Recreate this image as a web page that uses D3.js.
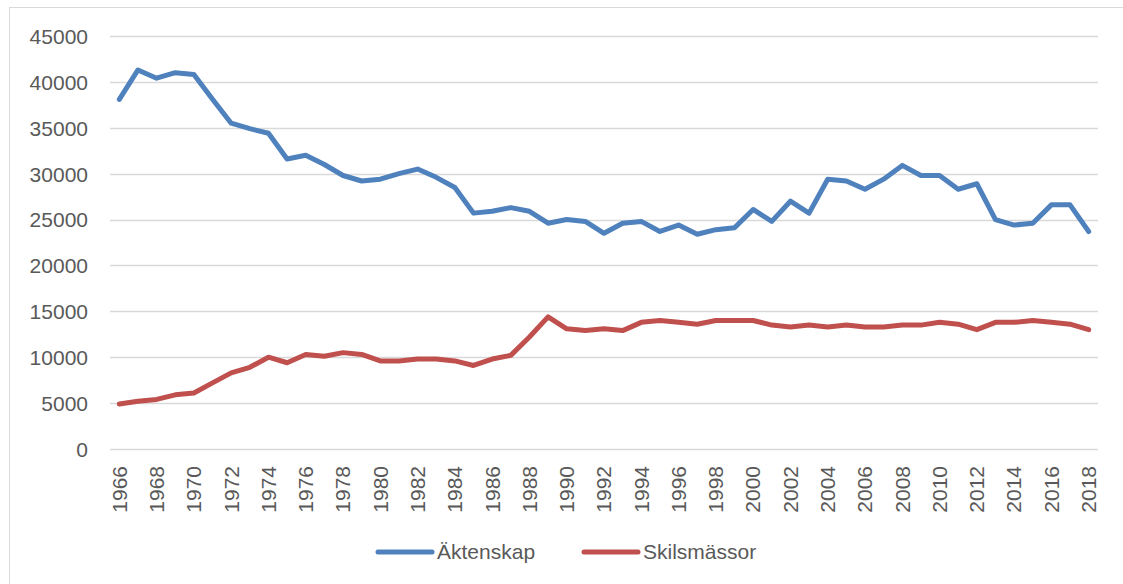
<!DOCTYPE html>
<html><head><meta charset="utf-8">
<script src="https://cdn.jsdelivr.net/npm/d3@7/dist/d3.min.js"></script>
<style>body{margin:0;background:#fff;}svg{display:block;}</style>
</head><body>
<svg id="c" width="1123" height="584"></svg>
<script>
const years = d3.range(1966, 2019);
const yTicks = [0,5000,10000,15000,20000,25000,30000,35000,40000,45000];
const seriesNames = ["Äktenskap", "Skilsmässor"];
const seriesColors = ["#4F81BD", "#C0504D"];
const aktenskap = [38100,41300,40400,41000,40800,38100,35500,34900,34400,31600,32000,31000,29800,29200,29400,30000,30500,29600,
  28500,25700,25900,26300,25900,24600,25000,24800,23500,24600,24800,23700,24400,23400,23900,24100,26100,24800,27000,25700,
  29400,29200,28300,29400,30900,29800,29800,28300,28900,25000,24400,24600,26600,26600,23700];
const skilsmassor = [4900,5200,5400,5900,6100,7200,8300,8900,10000,9400,10300,10100,10500,10300,9600,9600,9800,9800,
  9600,9100,9800,10200,12200,14400,13100,12900,13100,12900,13800,14000,13800,13600,14000,14000,14000,13500,13300,13500,
  13300,13500,13300,13300,13500,13500,13800,13600,13000,13800,13800,14000,13800,13600,13000];
const seriesValues = [aktenskap, skilsmassor];

const svg = d3.select("#c");
const font = "'Liberation Sans', Arial, sans-serif";
const txtCol = "#595959";
const fs = 21;

// chart border (only top/left visible in the crop)
svg.append("rect").attr("x",9.5).attr("y",7.5).attr("width",1130).attr("height",600)
  .attr("fill","none").attr("stroke","#d9d9d9").attr("stroke-width",1);

const pLeft = 110, pRight = 1098, pTop = 36, pBottom = 449;
const x = d3.scaleBand().domain(years).range([pLeft, pRight]).paddingInner(0).paddingOuter(0);
const xc = d => x(d) + x.bandwidth()/2;
const y = d3.scaleLinear().domain([0,45000]).range([pBottom, pTop]);

// gridlines
svg.append("g").selectAll("line").data(yTicks).join("line")
  .attr("x1", pLeft).attr("x2", pRight)
  .attr("y1", d => Math.round(y(d))+0.5).attr("y2", d => Math.round(y(d))+0.5)
  .attr("stroke", "#d9d9d9").attr("stroke-width", 1.5);

// y axis labels
const yAxis = d3.axisLeft(y).tickValues(yTicks).tickSize(0).tickPadding(0).tickFormat(d3.format("d"));
const ya = svg.append("g").attr("transform", `translate(88,0)`).call(yAxis);
ya.select(".domain").remove();
ya.selectAll("text").attr("font-family", font).attr("font-size", fs).attr("fill", txtCol).attr("dy","0.35em");

// x axis labels
const xAxis = d3.axisBottom(x).tickValues(years.filter(d => (d-1966)%2===0)).tickSize(0).tickPadding(0);
const xa = svg.append("g").attr("transform", `translate(0,${pBottom})`).call(xAxis);
xa.select(".domain").remove();
xa.selectAll("text").attr("font-family", font).attr("font-size", fs).attr("fill", txtCol)
  .attr("transform", "rotate(-90)").attr("text-anchor","end").attr("x", -17).attr("y", 0).attr("dy","0.35em");

// lines
const line = d3.line().x((d,i) => xc(years[i])).y(d => y(d));
seriesValues.forEach((vals, k) => {
  svg.append("path").datum(vals).attr("d", line).attr("fill","none")
    .attr("stroke", seriesColors[k]).attr("stroke-width", 5)
    .attr("stroke-linejoin","round").attr("stroke-linecap","round");
});

// legend
const legX = [378, 584];
seriesNames.forEach((n, k) => {
  const g = svg.append("g").attr("transform", `translate(${legX[k]},552)`);
  g.append("line").attr("x1",0).attr("x2",54).attr("y1",0).attr("y2",0)
    .attr("stroke", seriesColors[k]).attr("stroke-width",5).attr("stroke-linecap","round");
  g.append("text").attr("x",59).attr("y",0).attr("dy","0.35em").text(n)
    .attr("font-family", font).attr("font-size", fs).attr("fill", txtCol);
});
</script>
</body></html>
